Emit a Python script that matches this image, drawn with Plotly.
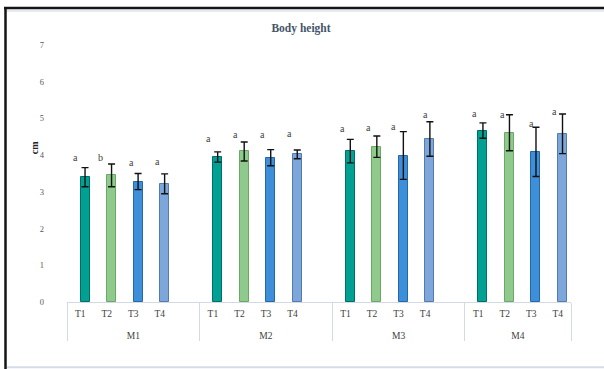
import plotly.graph_objects as go

# ---- data ----
groups = ["M1", "M2", "M3", "M4"]
treatments = ["T1", "T2", "T3", "T4"]
values = {
    "M1": [3.40, 3.45, 3.28, 3.22],
    "M2": [3.95, 4.10, 3.93, 4.02],
    "M3": [4.11, 4.23, 3.99, 4.44],
    "M4": [4.67, 4.61, 4.09, 4.58],
}
errors = {
    "M1": [0.26, 0.31, 0.22, 0.27],
    "M2": [0.14, 0.26, 0.22, 0.12],
    "M3": [0.32, 0.29, 0.65, 0.47],
    "M4": [0.21, 0.49, 0.67, 0.54],
}
letters = {
    "M1": ["a", "b", "a", "a"],
    "M2": ["a", "a", "a", "a"],
    "M3": ["a", "a", "a", "a"],
    "M4": ["a", "a", "a", "a"],
}
letter_heights = {
    "M1": [3.94, 3.94, 3.80, 3.83],
    "M2": [4.46, 4.57, 4.55, 4.58],
    "M3": [4.72, 4.74, 4.79, 5.12],
    "M4": [5.14, 5.12, 4.86, 5.19],
}
letter_dx = {
    "M1": [-0.17, -0.22, -0.08, -0.09],
    "M2": [-0.15, -0.15, -0.12, -0.12],
    "M3": [-0.10, -0.12, -0.18, 0.0],
    "M4": [-0.13, -0.10, 0.0, -0.13],
}
y_ticks = [0, 1, 2, 3, 4, 5, 6, 7]

fill_colors = {"T1": "#00A093", "T2": "#8FC98B", "T3": "#3C8FD8", "T4": "#7DA6DA"}
edge_colors = {"T1": "#006F66", "T2": "#6AA866", "T3": "#2767A8", "T4": "#5679AE"}

# ---- build multicategory slots (blank slot between groups) ----
lvl1, lvl2, ys, errs, fills, edges = [], [], [], [], [], []
slot_index = {}
for gi, g in enumerate(groups):
    glabel = "<br>" + g
    for ti, t in enumerate(treatments):
        slot_index[(g, t)] = len(lvl1)
        lvl1.append(glabel)
        lvl2.append(t)
        ys.append(values[g][ti])
        errs.append(errors[g][ti])
        fills.append(fill_colors[t])
        edges.append(edge_colors[t])
    if gi < len(groups) - 1:
        lvl1.append(glabel)
        lvl2.append(" ")
        ys.append(None)
        errs.append(None)
        fills.append("rgba(0,0,0,0)")
        edges.append("rgba(0,0,0,0)")

n_slots = len(lvl1)

fig = go.Figure()
fig.add_trace(go.Bar(
    x=[lvl1, lvl2],
    y=ys,
    width=0.34,
    offset=0.01,
    marker=dict(color=fills, line=dict(color=edges, width=1)),
    error_y=dict(type="data", array=errs, visible=True,
                 color="#111111", thickness=1.4, width=3.5),
    showlegend=False,
    hoverinfo="skip",
))

# significance letters
annotations = []
for g in groups:
    for ti, t in enumerate(treatments):
        annotations.append(dict(
            x=slot_index[(g, t)] + letter_dx[g][ti],
            y=letter_heights[g][ti],
            xref="x", yref="y",
            text=letters[g][ti], showarrow=False,
            font=dict(family="Liberation Serif", size=10, color="#404040"),
        ))

# plot-area pixel geometry
X0, X1, YB, YT = 67, 571, 302, 44.5
def px_x(p):
    return (p - X0) / (X1 - X0)
def px_y(p):
    return (YB - p) / (YB - YT)

annotations.append(dict(
    x=px_x(34), y=px_y(148), xref="paper", yref="paper",
    xanchor="center", yanchor="middle",
    text="<b>cm</b>", textangle=-90, showarrow=False,
    font=dict(family="Liberation Serif", size=10, color="#222222"),
))

shapes = [
    dict(type="line", xref="paper", yref="paper",
         x0=px_x(6), x1=px_x(606), y0=px_y(10.2), y1=px_y(10.2),
         line=dict(color="#E2E7EE", width=2)),
    dict(type="line", xref="paper", yref="paper",
         x0=px_x(4), x1=px_x(606), y0=px_y(7.5), y1=px_y(7.5),
         line=dict(color="#151515", width=2.5)),
    dict(type="line", xref="paper", yref="paper",
         x0=px_x(5.5), x1=px_x(5.5), y0=px_y(6.5), y1=px_y(371),
         line=dict(color="#151515", width=2.5)),
    dict(type="line", xref="paper", yref="paper",
         x0=px_x(7), x1=px_x(606), y0=px_y(367.5), y1=px_y(367.5),
         line=dict(color="#D5DCE5", width=2)),
]

fig.update_layout(
    width=604, height=369,
    margin=dict(l=X0, r=604 - X1, t=YT, b=369 - YB, autoexpand=False),
    paper_bgcolor="white", plot_bgcolor="white",
    title=dict(text="<b>Body height</b>", x=px_x(301), xref="paper",
               xanchor="center", y=1 - 28 / 369, yanchor="middle",
               font=dict(family="Liberation Serif", size=11.5, color="#44546A")),
    annotations=annotations,
    shapes=shapes,
    bargap=0,
)
fig.update_xaxes(
    type="multicategory",
    range=[-0.5, n_slots - 0.5],
    showline=True, linecolor="#D3DAE3", linewidth=1,
    showdividers=True, dividercolor="#D3DAE3", dividerwidth=1,
    ticks="", showgrid=False, ticklabelstandoff=3,
    tickfont=dict(family="Liberation Serif", size=9.5, color="#404040"),
)
fig.update_yaxes(
    range=[0, 7], tickvals=y_ticks, ticktext=[str(v) for v in y_ticks],
    showgrid=False, zeroline=False, showline=False, ticks="",
    ticklabelstandoff=22,
    tickfont=dict(family="Liberation Serif", size=8.5, color="#595959"),
)

fig.write_html("out.html")
